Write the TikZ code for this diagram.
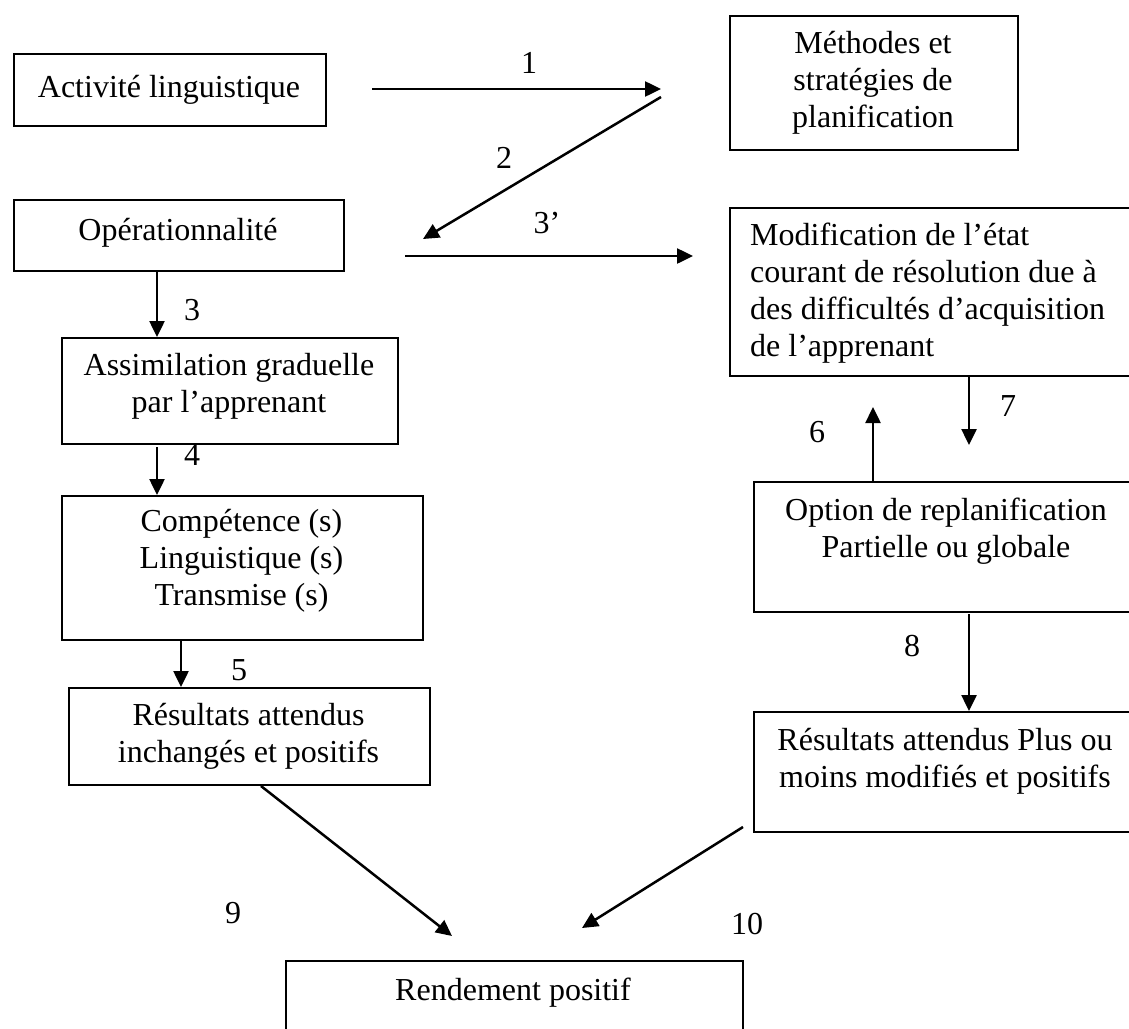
\documentclass[tikz,border=0pt]{standalone}
\usepackage{fontspec}
\setmainfont{Liberation Serif}
\usetikzlibrary{arrows.meta}
\begin{document}
\begin{tikzpicture}[x=1pt,y=-1pt,
  box/.style={draw, line width=2pt, inner sep=0pt, anchor=north west},
  txt/.style={font=\fontsize{32}{37}\selectfont, inner sep=0pt, anchor=north, align=center,
    execute at begin node=\rule{0pt}{24pt},
    execute at end node=\rule[-8pt]{0pt}{8pt}},
  txtl/.style={txt, anchor=north west, align=left},
  num/.style={font=\fontsize{32}{37}\selectfont, inner sep=0pt, text height=22pt, text depth=0pt},
  arr/.style={line width=2.5pt, -{Triangle[length=16pt,width=15pt]}}]

\useasboundingbox (0,0) rectangle (1129,1028);
\fill[white] (0,0) rectangle (1129,1028);
\clip (0,0) rectangle (1129,1028);

% boxes
\node[box, minimum width=312pt, minimum height=72pt]  (A) at (13,53)   {};
\node[box, minimum width=288pt, minimum height=134pt] (B) at (729,15)  {};
\node[box, minimum width=330pt, minimum height=71pt]  (C) at (13,199)  {};
\node[box, minimum width=420pt, minimum height=168pt] (D) at (729,207) {};
\node[box, minimum width=336pt, minimum height=106pt] (E) at (61,337)  {};
\node[box, minimum width=361pt, minimum height=144pt] (F) at (61,495)  {};
\node[box, minimum width=361pt, minimum height=97pt]  (G) at (68,687)  {};
\node[box, minimum width=400pt, minimum height=130pt] (H) at (753,481) {};
\node[box, minimum width=400pt, minimum height=120pt] (I) at (753,711) {};
\node[box, minimum width=457pt, minimum height=120pt] (J) at (285,960) {};

% box texts
\node[txt]  (At) at (169,73)  {Activité linguistique};
\node[txt]  (Bt) at (873,31)  {Méthodes et\\stratégies de\\planification};
\node[txt]  (Ct) at (178,216) {Opérationnalité};
\node[txtl] (Dt) at (750,223) {Modification de l’état\\courant de résolution due à\\des difficultés d’acquisition\\de l’apprenant};
\node[txt]  (Et) at (229,353) {Assimilation graduelle\\par l’apprenant};
\node[txt]  (Ft) at (241.5,509) {Compétence (s)\\Linguistique (s)\\Transmise (s)};
\node[txt]  (Gt) at (248.5,703) {Résultats attendus\\inchangés et positifs};
\node[txt]  (Ht) at (946,498) {Option de replanification\\Partielle ou globale};
\node[txt]  (It) at (945,728) {Résultats attendus Plus ou\\moins modifiés et positifs};
\node[txt]  (Jt) at (513,976) {Rendement positif};

% connector end points
\coordinate (p1a) at (372,89);  \coordinate (p1b) at (661,89);
\coordinate (p2a) at (661,97);  \coordinate (p2b) at (423,239);
\coordinate (p3a) at (405,256); \coordinate (p3b) at (693,256);
\coordinate (x3) at (157,0);
\coordinate (p4a) at (157,447);
\coordinate (x5) at (181,0);
\coordinate (p6b) at (873,407);
\coordinate (p7b) at (969,445);
\coordinate (p8a) at (969,614);
\coordinate (x9) at (261,0);    \coordinate (p9b) at (452,936);
\coordinate (p10a) at (743,827); \coordinate (p10b) at (582,928);

% connectors
\draw[arr] (p1a) -- (p1b);
\draw[arr] (p2a) -- (p2b);
\draw[arr] (p3a) -- (p3b);
\draw[arr] (C.south -| x3) -- (E.north -| x3);
\draw[arr] (p4a) -- (F.north -| p4a);
\draw[arr] (F.south -| x5) -- (G.north -| x5);
\draw[arr] (H.north -| p6b) -- (p6b);
\draw[arr] (D.south -| p7b) -- (p7b);
\draw[arr] (p8a) -- (I.north -| p8a);
\draw[arr] (G.south -| x9) -- (p9b);
\draw[arr] (p10a) -- (p10b);

% connector labels
\node[num] (l1)  at (529,62)  {1};
\node[num] (l2)  at (504,157) {2};
\node[num] (l3q) at (547,222) {3’};
\node[num] (l3)  at (192,309) {3};
\node[num] (l4)  at (192,454) {4};
\node[num] (l5)  at (239,669) {5};
\node[num] (l6)  at (817,431) {6};
\node[num] (l7)  at (1008,405) {7};
\node[num] (l8)  at (912,645) {8};
\node[num] (l9)  at (233,912) {9};
\node[num] (l10) at (747,923) {10};
\end{tikzpicture}
\end{document}
